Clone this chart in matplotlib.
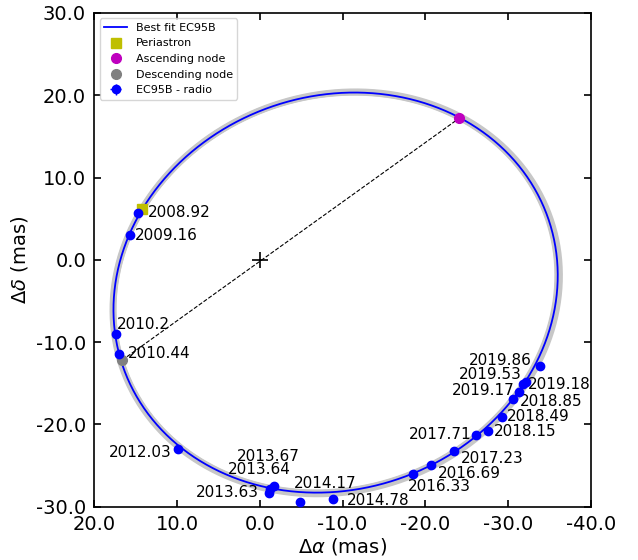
import matplotlib
matplotlib.use("Agg")
import matplotlib.pyplot as plt
import numpy as np
from matplotlib.ticker import FormatStrFormatter, MultipleLocator

# EC95B radio astrometry, offsets relative to the primary (mas)
epochs = ["2008.92", "2009.16", "2010.2", "2010.44", "2012.03",
          "2013.63", "2013.64", "2013.67", "2014.17", "2014.78",
          "2016.33", "2016.69", "2017.23", "2017.71", "2018.15",
          "2018.49", "2018.85", "2019.17", "2019.18", "2019.53", "2019.86"]
d_ra = [14.71, 15.75, 17.40, 17.08, 9.87,
        -1.09, -1.21, -1.73, -4.83, -8.86,
        -18.53, -20.63, -23.44, -26.14, -27.55,
        -29.24, -30.57, -31.38, -31.82, -32.15, -33.92]
d_dec = [5.64, 3.00, -9.02, -11.45, -23.03,
         -28.30, -27.85, -27.49, -29.39, -29.03,
         -26.07, -24.90, -23.20, -21.33, -20.84,
         -19.14, -16.96, -16.11, -15.10, -14.82, -12.91]
pos_err = 0.25

# best-fit orbit in Thiele-Innes form (mas)
ecc = 0.392
ti_A = (23.35, 10.15)
ti_C = (13.26, -22.08)

periastron = (14.22, 6.16)
asc_node = (-24.05, 17.17)
desc_node = (16.64, -12.18)

# label offsets (points) and alignment for each epoch
label_pos = [(7, 1, "left"), (4, 0, "left"), (0.5, 7, "left"), (7, 0.5, "left"),
             (-5, -2.5, "right"),
             (-7, 0, "right"), (-7.5, 14, "center"), (-4.5, 21.5, "center"),
             (18.5, 13.5, "center"), (10, -1, "left"),
             (-3.5, -8.5, "left"), (5, -6, "left"), (5, -5.5, "left"),
             (-3.5, 1, "right"), (4.5, 0, "left"), (4, 0.5, "left"),
             (5, -1.7, "left"), (-3.4, 1.7, "right"), (3.6, 0, "left"),
             (-3, 5.3, "right"), (-6.5, 4.3, "right")]


def orbit(scale=1.0, n=721):
    E = np.linspace(0, 2 * np.pi, n)
    x = scale * (ti_A[0] * (np.cos(E) - ecc) + ti_C[0] * np.sin(E))
    y = scale * (ti_A[1] * (np.cos(E) - ecc) + ti_C[1] * np.sin(E))
    return x, y


plt.rcParams["axes.unicode_minus"] = False

fig = plt.figure(figsize=(6.38, 5.6), dpi=100)
ax = fig.add_axes([0.148, 0.095, 0.778, 0.882])

# spread of acceptable orbits
for s in (0.998, 1.0, 1.004, 1.008):
    ox, oy = orbit(s)
    ax.plot(ox, oy, color="0.78", lw=4, solid_capstyle="round", zorder=1)

ox, oy = orbit()
ax.plot(ox, oy, color="b", lw=1.3, label="Best fit EC95B", zorder=2)

ax.plot([desc_node[0], asc_node[0]], [desc_node[1], asc_node[1]],
        ls="--", color="k", lw=0.8, zorder=2)
ax.plot(0, 0, marker="+", color="k", ms=11, mew=1.2, zorder=3)

ax.plot(*periastron, ls="none", marker="s", color="y", ms=6.5,
        label="Periastron", zorder=3)
ax.plot(*asc_node, ls="none", marker="o", color="m", ms=7,
        label="Ascending node", zorder=3)
ax.plot(*desc_node, ls="none", marker="o", color="gray", ms=7,
        label="Descending node", zorder=3)

ax.errorbar(d_ra, d_dec, xerr=pos_err, yerr=pos_err, fmt="o", color="b",
            ms=6, elinewidth=1, capsize=0, label="EC95B - radio", zorder=4)

for x, y, txt, (dx, dy, ha) in zip(d_ra, d_dec, epochs, label_pos):
    ax.annotate(txt, (x, y), xytext=(dx, dy), textcoords="offset points",
                ha=ha, va="center", fontsize=11)

ax.set_xlim(20, -40)
ax.set_ylim(-30, 30)
ax.xaxis.set_major_locator(MultipleLocator(10))
ax.yaxis.set_major_locator(MultipleLocator(10))
ax.xaxis.set_major_formatter(FormatStrFormatter("%.1f"))
ax.yaxis.set_major_formatter(FormatStrFormatter("%.1f"))
ax.tick_params(direction="in", top=True, right=True, length=5, width=1.2,
               labelsize=14, pad=6)
for sp in ax.spines.values():
    sp.set_linewidth(1.2)

ax.set_xlabel(r"$\Delta\alpha$ (mas)", fontsize=14, labelpad=1.5)
ax.set_ylabel(r"$\Delta\delta$ (mas)", fontsize=14)
ax.legend(loc="upper left", fontsize=8, numpoints=1)

fig.savefig("out.png", dpi=100)
